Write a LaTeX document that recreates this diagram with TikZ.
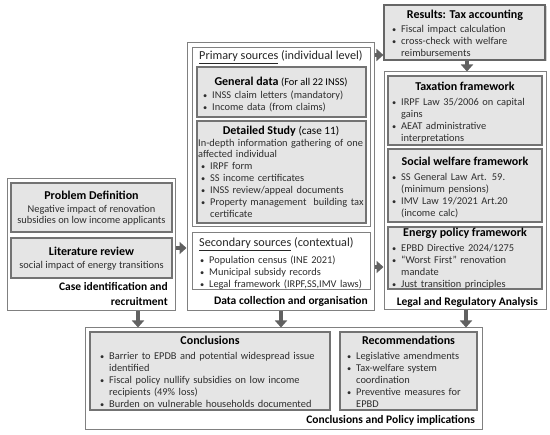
\documentclass[tikz,border=0pt]{standalone}
\usepackage{fontspec}
\setmainfont{Carlito}
\usetikzlibrary{arrows.meta,fit,shadows}
\setlength{\parindent}{0pt}
\setlength{\parskip}{0pt}
\newcommand{\bodyf}{\fontsize{10.4}{11.9}\selectfont}
\newcommand{\titf}{\fontsize{12}{14}\selectfont\bfseries}
\newcommand{\labf}{\fontsize{11.5}{15}\selectfont\bfseries}
\newcommand{\nl}{\hfil\break}
\newcommand{\bi}[1]{\par\noindent\hangindent=12pt\hangafter=1\strut\makebox[12pt][l]{\hspace{3pt}\scalebox{0.8}{\textbullet}}#1\par}
\begin{document}
\begin{tikzpicture}[x=1pt,y=-1pt,
  outerbox/.style={draw=black!50, line width=1pt, fill=white, inner sep=0pt},
  whitebox/.style={draw=black!50, line width=1pt, fill=white, inner sep=0pt},
  graybox/.style={draw=black!55, line width=1.1pt, fill=black!10, inner sep=0pt},
  resbox/.style={draw=black!60, line width=1.1pt, fill=black!10, inner sep=0pt,
    drop shadow={opacity=0.35, shadow xshift=1.5pt, shadow yshift=-1.5pt}},
  barrow/.style={draw=black!62, line width=4.5pt, -{Triangle[width=12pt,length=7pt]}},
  ttl/.style={inner sep=0pt, anchor=base, font=\titf, text=black},
  lab/.style={inner sep=0pt, anchor=base east, font=\labf, text=black},
  sub/.style={inner sep=0pt, anchor=base west, font=\fontsize{12.2}{14}\selectfont, text=black!85},
  body/.style={inner sep=0pt, anchor=north west, align=left, text width=#1, font=\bodyf, text=black!82},
  cbody/.style={inner sep=0pt, anchor=north, align=center, font=\bodyf, text=black!82}]
\useasboundingbox (0,0) rectangle (550,435);

% outer boxes
\node[outerbox, fit={(7,179) (175,311)}] (case) {};
\node[outerbox, fit={(187,43) (374,311)}] (data) {};
\node[outerbox, fit={(384,72) (546,310)}] (legal) {};
\node[outerbox, fit={(85,328) (482,430)}] (concl) {};
\node[resbox, fit={(384,5) (545,60)}] (results) {};

% inner boxes
\node[graybox, fit={(11,183) (172,232)}] (prob) {};
\node[graybox, fit={(11,238) (172,278)}] (lit) {};
\node[whitebox, fit={(192,48) (370,227)}] (prim) {};
\node[graybox, fit={(197,67) (366,117)}] (gen) {};
\node[graybox, fit={(197,121) (366,223)}] (det) {};
\node[whitebox, fit={(192,233) (370,290)}] (sec) {};
\node[graybox, fit={(388,76) (542,145)}] (tax) {};
\node[graybox, fit={(388,149) (542,222)}] (soc) {};
\node[graybox, fit={(388,227) (542,289)}] (ene) {};
\node[graybox, fit={(90,332) (330,410)}] (conc) {};
\node[graybox, fit={(340,332) (477,410)}] (rec) {};

% arrows
\draw[barrow] (case.east |- 0,248) -- (data.west |- 0,248);
\draw[barrow] (data.east |- 0,55) -- (results.west |- 0,55);
\draw[barrow] (data.east |- 0,267) -- (legal.west |- 0,267);
\draw[barrow] (results.south -| 467,0) -- (legal.north -| 467,0);
\draw[barrow] (case.south -| 138,0) -- (concl.north -| 138,0);
\draw[barrow] (data.south -| 281,0) -- (concl.north -| 281,0);
\draw[barrow] (legal.south -| 466,0) -- (concl.north -| 466,0);

% case identification
\node[ttl] (probt) at (91.5,199.5) {Problem Definition};
\node[cbody] (probx) at (91.5,203.5) {\strut Negative impact of renovation\\subsidies on low income applicants};
\node[ttl] (litt) at (91.5,255.5) {Literature review};
\node[cbody] (litx) at (91.5,259.5) {\strut social impact of energy transitions};
\node[inner sep=0pt, anchor=north east, align=right, font=\labf, text=black] (casel) at (168,279.5) {\strut Case identification and\\recruitment};

% data collection
\node[sub] (primt) at (199,59.5) {\underline{Primary sources} (individual level)};
\node[ttl] (gent) at (281,85.5) {General data {\fontsize{10.4}{12}\selectfont\mdseries(For all 22 INSS)}};
\node[body=160pt] (genx) at (200,86.5) {\bi{INSS claim letters (mandatory)}\bi{Income data (from claims)}};
\node[ttl] (dett) at (281,134.5) {Detailed Study {\fontsize{11.2}{12}\selectfont\mdseries(case 11)}};
\node[body=190pt] (detx) at (198,137.5) {\strut In-depth information gathering of one\nl affected individual\par\bi{IRPF form}\bi{SS income certificates}\bi{INSS review/appeal documents}\bi{Property management~ building tax\nl certificate}};
\node[sub] (sect) at (199,246.5) {\underline{Secondary sources} (contextual)};
\node[body=170pt] (secx) at (197,251.5) {\bi{Population census (INE 2021)}\bi{Municipal subsidy records}\bi{Legal framework (IRPF,SS,IMV laws)}};
\node[lab] (datal) at (368,304.5) {Data collection and organisation};

% legal
\node[ttl] (rest) at (465,18.5) {Results: Tax accounting};
\node[body=150pt] (resx) at (389,20.5) {\bi{Fiscal impact calculation}\bi{cross-check with welfare\nl reimbursements}};
\node[ttl] (taxt) at (465,90.5) {Taxation framework};
\node[body=150pt] (taxx) at (389,93.5) {\bi{IRPF Law 35/2006 on capital\nl gains}\bi{AEAT administrative\nl interpretations}};
\node[ttl] (soct) at (465,165.5) {Social welfare framework};
\node[body=150pt] (socx) at (389,168.5) {\bi{SS General Law Art. 59.\nl (minimum pensions)}\bi{IMV Law 19/2021 Art.20\nl (income calc)}};
\node[ttl] (enet) at (465,236.5) {Energy policy framework};
\node[body=150pt] (enex) at (389,239.5) {\bi{EPBD Directive 2024/1275}\bi{“Worst First” renovation\nl mandate}\bi{Just transition principles}};
\node[lab] (legall) at (538,305.5) {Legal and Regulatory Analysis};

% conclusions
\node[ttl] (conct) at (210,344.5) {Conclusions};
\node[body=235pt] (concx) at (97,347.5) {\bi{Barrier to EPDB and potential widespread issue\nl identified}\bi{Fiscal policy nullify subsidies on low income\nl recipients (49\% loss)}\bi{Burden on vulnerable households documented}};
\node[ttl] (rect) at (408.5,344.5) {Recommendations};
\node[body=130pt] (recx) at (344,347.5) {\bi{Legislative amendments}\bi{Tax-welfare system\nl coordination}\bi{Preventive measures for\nl EPBD}};
\node[lab] (concl2) at (475,423.5) {Conclusions and Policy implications};
\end{tikzpicture}
\end{document}
